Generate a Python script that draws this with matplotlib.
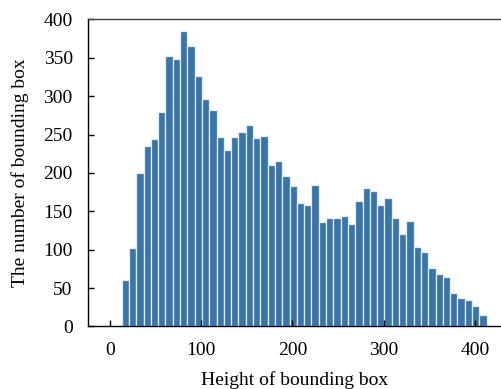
import numpy as np
import matplotlib
matplotlib.use("Agg")
import matplotlib.pyplot as plt

# counts per bin (50 bins)
counts = [60, 102, 200, 235, 244, 279, 352, 349, 385, 366,
          327, 297, 282, 247, 230, 247, 253, 262, 245, 248,
          210, 215, 196, 183, 161, 158, 185, 136, 141, 141,
          144, 133, 164, 181, 177, 158, 168, 142, 120, 137,
          104, 97, 76, 69, 65, 43, 37, 34, 27, 15]
bin_start = 12.8
bin_width = 8
x_ticks = [0, 100, 200, 300, 400]
y_ticks = [0, 50, 100, 150, 200, 250, 300, 350, 400]

plt.rcParams['font.family'] = ['Liberation Serif', 'DejaVu Serif']
plt.rcParams['font.size'] = 14

fig = plt.figure(figsize=(5.02, 3.89), dpi=100)
ax = fig.add_axes([0.1753, 0.1607, 0.8247, 0.7892])

lefts = bin_start + bin_width * np.arange(len(counts))
ax.bar(lefts, counts, width=bin_width, align='edge',
       color='#3a75a9', edgecolor='#e4ecf4', linewidth=0.9)

ax.set_xlim(-24.1, 429.6)
ax.set_ylim(0, 400)
ax.set_xticks(x_ticks)
ax.set_yticks(y_ticks)
ax.tick_params(direction='in', length=4, width=1, colors='black')
ax.tick_params(axis='x', pad=11)
ax.tick_params(axis='y', pad=11)
ax.spines['right'].set_visible(False)
for s in ['top', 'left', 'bottom']:
    ax.spines[s].set_linewidth(1.0)
ax.spines['top'].set_color('#444444')

ax.set_xlabel('Height of bounding box', labelpad=9)
ax.set_ylabel('The number of bounding box', labelpad=10)

fig.savefig('out.png', dpi=100)
